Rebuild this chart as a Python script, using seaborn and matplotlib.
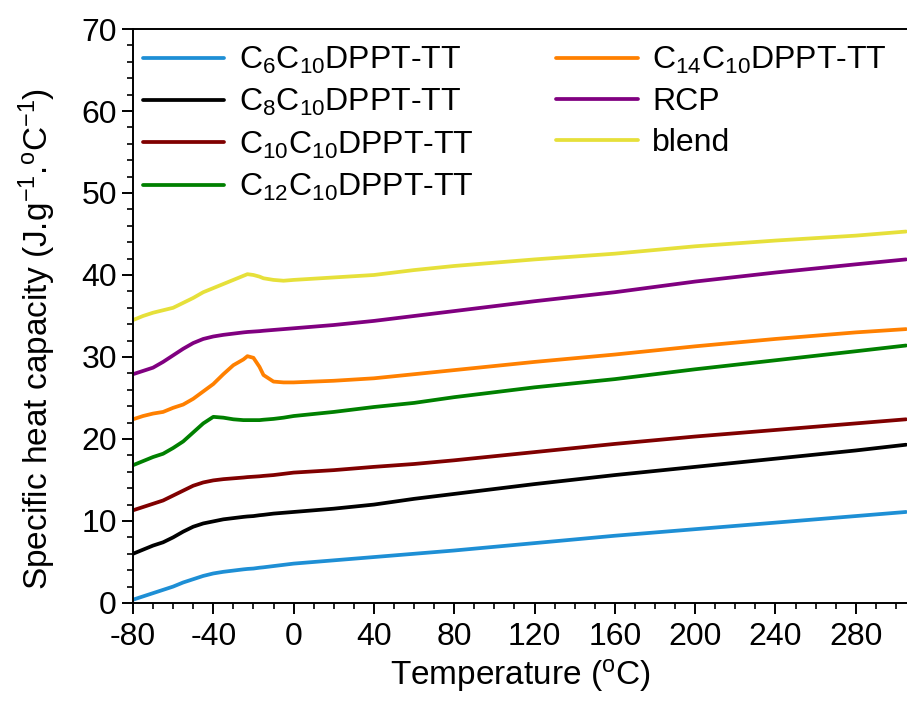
import numpy as np
import pandas as pd
import seaborn as sns
import matplotlib.pyplot as plt
from matplotlib.ticker import MultipleLocator

# temperature grid (°C)
temps = [-80, -75, -70, -65, -60, -55, -50, -45, -40, -35, -30, -25, -23, -20, -17, -15,
         -10, -5, 0, 20, 40, 60, 80, 120, 160, 200, 240, 280, 305]

cp_c6 = [0.4, 0.8, 1.2, 1.6, 2.0, 2.5, 2.9, 3.3, 3.6, 3.8, 3.95, 4.1, 4.15, 4.2, 4.3, 4.35,
         4.5, 4.65, 4.8, 5.2, 5.6, 6.0, 6.4, 7.3, 8.2, 9.0, 9.8, 10.6, 11.1]
cp_c8 = [6.0, 6.5, 7.0, 7.4, 8.0, 8.7, 9.3, 9.7, 9.95, 10.2, 10.35, 10.5, 10.55, 10.6, 10.7, 10.75,
         10.9, 11.0, 11.1, 11.5, 12.0, 12.7, 13.3, 14.5, 15.6, 16.6, 17.6, 18.6, 19.3]
cp_c10 = [11.3, 11.7, 12.1, 12.5, 13.1, 13.7, 14.3, 14.7, 14.95, 15.1, 15.2, 15.3, 15.35, 15.4, 15.45, 15.5,
          15.6, 15.75, 15.9, 16.2, 16.6, 16.95, 17.4, 18.4, 19.4, 20.3, 21.1, 21.9, 22.4]
cp_c12 = [16.8, 17.3, 17.8, 18.2, 18.9, 19.7, 20.8, 21.9, 22.7, 22.6, 22.4, 22.3, 22.3, 22.3, 22.3, 22.35,
          22.45, 22.6, 22.8, 23.3, 23.9, 24.4, 25.1, 26.3, 27.3, 28.5, 29.6, 30.7, 31.4]
cp_c14 = [22.4, 22.8, 23.1, 23.3, 23.8, 24.2, 24.9, 25.8, 26.7, 27.9, 29.0, 29.7, 30.1, 29.9, 28.8, 27.8,
          27.0, 26.9, 26.9, 27.1, 27.4, 27.9, 28.4, 29.4, 30.3, 31.3, 32.2, 33.0, 33.4]
cp_rcp = [27.9, 28.3, 28.7, 29.4, 30.2, 31.0, 31.7, 32.2, 32.5, 32.7, 32.85, 33.0, 33.05, 33.1, 33.15, 33.2,
          33.3, 33.4, 33.5, 33.9, 34.4, 35.0, 35.6, 36.8, 37.9, 39.2, 40.3, 41.3, 41.9]
cp_blend = [34.5, 35.0, 35.4, 35.7, 36.0, 36.6, 37.2, 37.9, 38.4, 38.9, 39.4, 39.9, 40.1, 40.0, 39.8, 39.6,
            39.4, 39.3, 39.4, 39.7, 40.0, 40.6, 41.1, 41.9, 42.6, 43.5, 44.2, 44.8, 45.3]

labels = ['C$_{6}$C$_{10}$DPPT-TT', 'C$_{8}$C$_{10}$DPPT-TT', 'C$_{10}$C$_{10}$DPPT-TT',
          'C$_{12}$C$_{10}$DPPT-TT', 'C$_{14}$C$_{10}$DPPT-TT', 'RCP', 'blend']
series = [cp_c6, cp_c8, cp_c10, cp_c12, cp_c14, cp_rcp, cp_blend]
colors = ['#1e8fd5', '#000000', '#800000', '#008000', '#ff8000', '#800080', '#e6e03a']

df = pd.concat([pd.DataFrame({'T': temps, 'Cp': s, 'sample': lab})
                for lab, s in zip(labels, series)], ignore_index=True)

sns.set_style('ticks')
plt.rcParams['font.family'] = ['Liberation Sans', 'DejaVu Sans']
plt.rcParams['mathtext.fontset'] = 'custom'
plt.rcParams['mathtext.rm'] = 'Liberation Sans'
plt.rcParams['mathtext.default'] = 'regular'
plt.rcParams['axes.unicode_minus'] = False
plt.rcParams['text.color'] = 'black'
plt.rcParams['axes.labelcolor'] = 'black'

fs = 23
fig = plt.figure(figsize=(9.07, 7.04), dpi=100)
ax = fig.add_axes([0.1466, 0.1435, 0.8534, 0.8153])

sns.lineplot(data=df, x='T', y='Cp', hue='sample', hue_order=labels,
             palette=dict(zip(labels, colors)), linewidth=2.7, ax=ax)

ax.set_xlim(-80, 305.5)
ax.set_ylim(0, 70)
ax.xaxis.set_major_locator(MultipleLocator(40))
ax.xaxis.set_minor_locator(MultipleLocator(10))
ax.yaxis.set_major_locator(MultipleLocator(10))
ax.yaxis.set_minor_locator(MultipleLocator(2))
ax.tick_params(which='major', direction='out', length=8, width=1.4, labelsize=fs,
               colors='black')
ax.tick_params(which='minor', direction='out', length=4, width=1.2, colors='black')
ax.tick_params(axis='x', pad=6)

for side in ['left', 'bottom', 'top']:
    ax.spines[side].set_linewidth(1.4)
    ax.spines[side].set_color('black')
ax.spines['right'].set_visible(False)

ax.set_xlabel('Temperature ($^{o}$C)', fontsize=fs + 1, labelpad=3)
ax.set_ylabel('Specific heat capacity (J.g$^{-1}$.$^{o}$C$^{-1}$)', fontsize=fs + 1)
ax.yaxis.set_label_coords(-0.097, 0.46)

ax.legend(loc='upper left', bbox_to_anchor=(-0.008, 1.0), ncol=2, frameon=False,
          fontsize=fs, handlelength=2.55, handletextpad=0.45, columnspacing=2.6,
          labelspacing=0.35, borderaxespad=0.3, borderpad=0.2)

fig.savefig('out.png', dpi=100)
